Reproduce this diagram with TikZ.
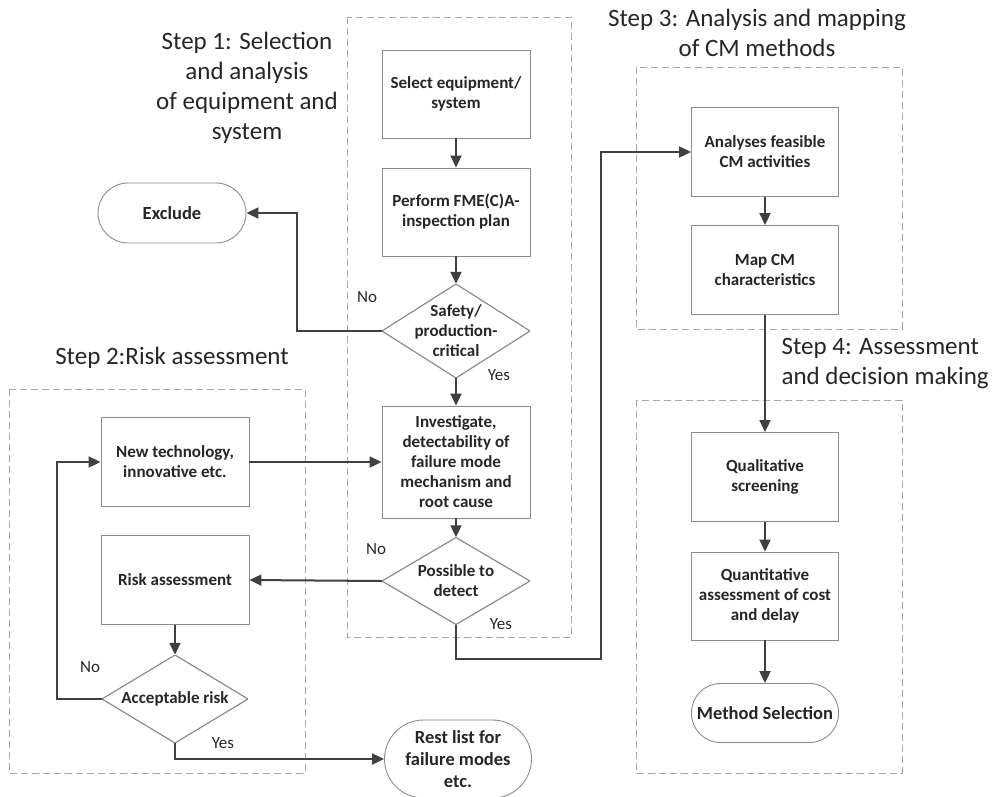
\documentclass[tikz,border=0pt]{standalone}
\usepackage{fontspec}
\setmainfont{Carlito}
\usetikzlibrary{arrows.meta}

\definecolor{ink}{HTML}{262626}
\definecolor{boxgray}{HTML}{8C8C8C}
\definecolor{dashgray}{HTML}{A6A6A6}
\definecolor{linegray}{HTML}{404040}

\begin{document}
\begin{tikzpicture}[x=1pt,y=-1pt,
    proc/.style={draw=boxgray, line width=0.9pt, fill=white, minimum width=148pt,
        minimum height=89pt, inner sep=0pt, align=center, text=ink,
        font=\fontsize{17}{20}\selectfont\bfseries},
    decide/.style={minimum width=148pt, minimum height=92pt, inner sep=0pt,
        align=center, text=ink, font=\fontsize{17}{20}\selectfont\bfseries,
        path picture={\draw[draw=boxgray, line width=1.2pt]
            (path picture bounding box.north) -- (path picture bounding box.east)
            -- (path picture bounding box.south) -- (path picture bounding box.west) -- cycle;}},
    term/.style={draw=boxgray, line width=0.9pt, minimum width=148pt, minimum height=60pt,
        rounded corners=30pt, inner sep=0pt, align=center, text=ink,
        font=\fontsize{18.5}{22}\selectfont\bfseries},
    region/.style={draw=dashgray, line width=1pt, dash pattern=on 7pt off 4pt},
    flow/.style={draw=linegray, line width=2pt, -{Triangle[length=12pt,width=11pt]}},
    title/.style={align=center, text=ink, font=\fontsize{25}{30}\selectfont},
    answer/.style={text=ink, font=\fontsize{17}{20}\selectfont}]

    \useasboundingbox (0,0) rectangle (996,796);

    % dashed regions of the four steps
    \draw[region] (347,17) rectangle (571,637);
    \draw[region] (9,389) rectangle (305,773);
    \draw[region] (636,67) rectangle (902,329);
    \draw[region] (636,400) rectangle (902,773);

    % step titles
    \node[title] (title1) at (247,88) {Step 1: Selection\\and analysis\\of equipment and\\system};
    \node[title] (title2) at (172,358) {Step 2:Risk assessment};
    \node[title] (title3) at (757,33) {Step 3: Analysis and mapping\\of CM methods};
    \node[title, align=left, anchor=west] (title4) at (778,364) {Step 4: Assessment\\and decision making};

    % step 1
    \node[proc, minimum height=88pt] (select) at (456,94) {Select equipment/\\system};
    \node[proc, minimum height=88pt] (fmeca) at (456,212) {Perform FME(C)A-\\inspection plan};
    \node[decide, minimum height=94pt] (critical) at (456,331) {Safety/\\production-\\critical};
    \node[term] (exclude) at (172,213) {Exclude};
    \node[proc, minimum height=112pt] (investigate) at (456,462)
        {Investigate,\\detectability of\\failure mode\\mechanism and\\root cause};
    \node[decide, minimum height=87pt] (detect) at (456,581) {Possible to\\detect};

    % step 2
    \node[proc] (newtech) at (175,462) {New technology,\\innovative etc.};
    \node[proc] (risk) at (175,580) {Risk assessment};
    \node[decide, minimum width=146pt, minimum height=88pt] (accept) at (175,699) {Acceptable risk};
    \node[term, minimum width=147pt, minimum height=78pt, rounded corners=39pt] (rest) at (458,759)
        {Rest list for\\failure modes\\etc.};

    % step 3
    \node[proc, minimum width=147pt] (feasible) at (765,152) {Analyses feasible\\CM activities};
    \node[proc, minimum width=147pt] (mapcm) at (765,270) {Map CM\\characteristics};

    % step 4
    \node[proc, minimum width=147pt] (screen) at (765,477) {Qualitative\\screening};
    \node[proc, minimum width=147pt, minimum height=88pt] (quant) at (765,596)
        {Quantitative\\assessment of cost\\and delay};
    \node[term, minimum width=147pt, minimum height=59pt, rounded corners=29pt] (method) at (765,713)
        {Method Selection};

    % connectors
    \draw[flow] (select) -- (fmeca);
    \draw[flow] (fmeca) -- (critical);
    \draw[flow] (critical.west) -- ++(-85,0) |- (exclude.east);
    \draw[flow] (critical) -- (investigate);
    \draw[flow] (newtech) -- (investigate);
    \draw[flow] (investigate) -- (detect);
    \draw[flow] (detect.west) -- (risk.east);
    \draw[flow] (risk) -- (accept);
    \draw[flow] (accept.west) -- ++(-45,0) |- (newtech.west);
    \draw[flow] (accept.south) |- (rest.west);
    \coordinate (turn) at (601,659);
    \draw[flow] (detect.south) |- (turn) |- (feasible.west);
    \draw[flow] (feasible) -- (mapcm);
    \draw[flow] (mapcm) -- (screen);
    \draw[flow] (screen) -- (quant);
    \draw[flow] (quant) -- (method);

    % answers
    \node[answer] (no1) at (367,297) {No};
    \node[answer] (yes1) at (499,375) {Yes};
    \node[answer] (no2) at (376,549) {No};
    \node[answer] (yes2) at (501,624) {Yes};
    \node[answer] (no3) at (90,667) {No};
    \node[answer] (yes3) at (223,743) {Yes};
\end{tikzpicture}
\end{document}
